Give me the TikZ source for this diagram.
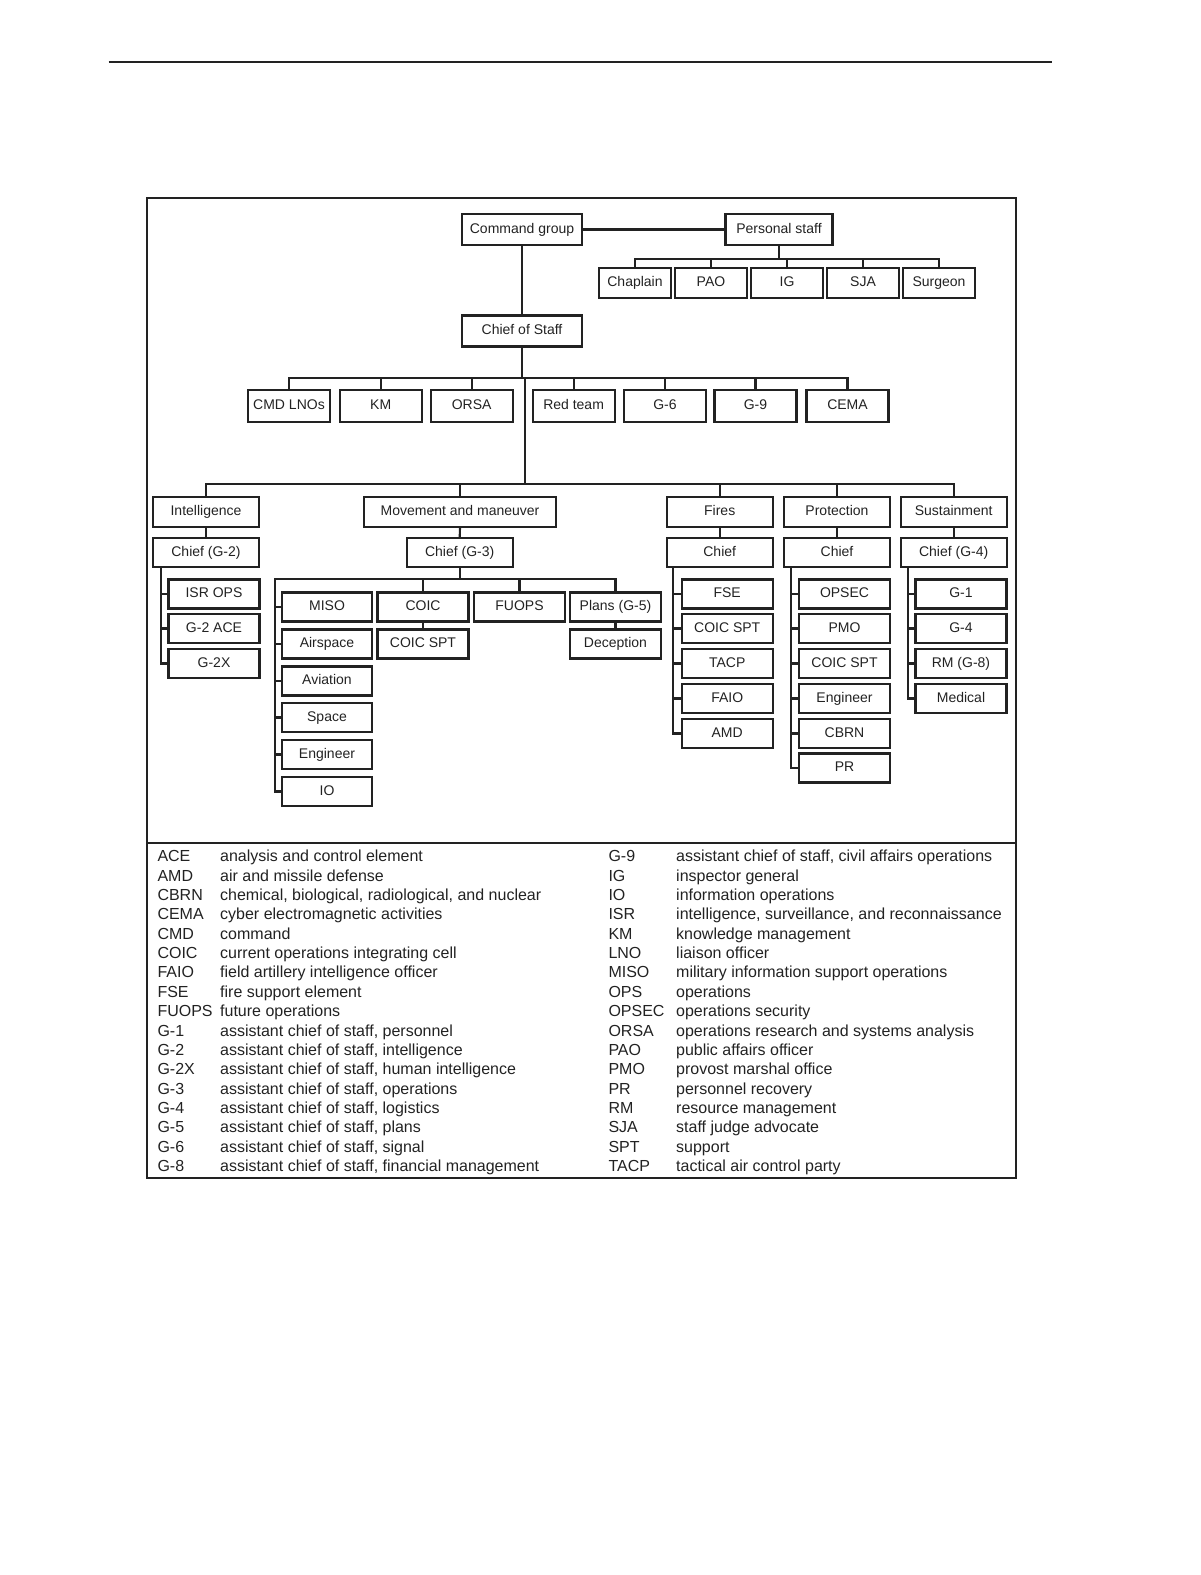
\documentclass[tikz,border=0pt]{standalone}
\usepackage{fontspec}
\setmainfont{Liberation Sans}
\definecolor{ink}{HTML}{222222}
\newcommand{\boxfont}{\fontsize{14}{16}\selectfont}
\newcommand{\legfont}{\fontsize{16}{19}\selectfont}
\tikzset{
  orgbox/.style={draw=ink, line width=2.1pt, rectangle, inner sep=0pt,
    minimum height=29pt, font=\boxfont, text=ink, text height=10pt, text depth=3pt},
  wide/.style={orgbox, minimum width=106pt},
  kid/.style={orgbox, minimum width=91pt},
  link/.style={draw=ink, line width=2.1pt},
  legab/.style={anchor=base west, inner sep=0pt, font=\legfont, text=ink},
}
\begin{document}
\begin{tikzpicture}[x=1pt,y=-1pt]
\useasboundingbox (0,0) rectangle (1200,1575);
% top rule and frame
\draw[ink, line width=2.2pt] (108.5,62.3) -- (1052.4,62.3);
\draw[ink, line width=2.2pt] (147,198) rectangle (1015.6,1177.7);
\draw[ink, line width=2.2pt] (147,842.6) -- (1015.6,842.6);

% top level
\node[orgbox, minimum width=120pt, minimum height=31pt] (cmd) at (522,229.5) {Command group};
\node[orgbox, minimum width=107pt, minimum height=31pt] (pers) at (779,229.5) {Personal staff};
\node[orgbox, minimum width=120pt, minimum height=31pt] (cos) at (522,331) {Chief of Staff};
\draw[link] (cmd.east) -- (pers.west);
\draw[link] (cmd.south) -- (cos.north);

% personal staff
\foreach \n/\t/\x in {chap/Chaplain/635, pao/PAO/711, ig/IG/787, sja/SJA/863, surg/Surgeon/939}
  \node[orgbox, minimum width=72pt, minimum height=30pt] (\n) at (\x,283) {\t};
\coordinate (pbus) at (779,259);
\draw[link] (pers.south) -- (pbus);
\draw[link] (chap.north) -- (chap.north |- pbus) -- (surg.north |- pbus) -- (surg.north);
\foreach \n in {pao,ig,sja} \draw[link] (\n.north) -- (\n.north |- pbus);

% chief of staff row
\foreach \n/\t/\x in {lno/CMD LNOs/289, km/KM/380.7, orsa/ORSA/471.6, red/Red team/573.6, gsix/G-6/665, gnine/G-9/755.5, cema/CEMA/847.5}
  \node[orgbox, minimum width=82pt, minimum height=32pt] (\n) at (\x,406) {\t};
\coordinate (cbus) at (522,378);
\draw[link] (cos.south) -- (cbus);
\draw[link] (lno.north) -- (lno.north |- cbus) -- (cema.north |- cbus) -- (cema.north);
\foreach \n in {km,orsa,red,gsix,gnine} \draw[link] (\n.north) -- (\n.north |- cbus);

% main bus
\coordinate (mtop) at (524.6,378);
\coordinate (mbus) at (524.6,484.3);
\draw[link] (mtop) -- (mbus);

\node[wide, minimum height=30pt] (intel) at (206,512) {Intelligence};
\node[orgbox, minimum width=192pt, minimum height=30pt] (mm) at (460,512) {Movement and maneuver};
\node[wide, minimum height=30pt] (fires) at (719.7,512) {Fires};
\node[wide, minimum height=30pt] (prot) at (837,512) {Protection};
\node[wide, minimum height=30pt] (sust) at (953.7,512) {Sustainment};
\draw[link] (intel.north) -- (intel.north |- mbus) -- (sust.north |- mbus) -- (sust.north);
\foreach \n in {mm,fires,prot} \draw[link] (\n.north) -- (\n.north |- mbus);

\node[wide] (cintel) at (206,552.5) {Chief (G-2)};
\node[wide] (cmm) at (459.7,552.5) {Chief (G-3)};
\node[wide] (cfires) at (719.7,552.5) {Chief};
\node[wide] (cprot) at (837,552.5) {Chief};
\node[wide] (csust) at (953.7,552.5) {Chief (G-4)};
\draw[link] (intel.south) -- (cintel.north);
\draw[link] (mm.south) -- (cmm.north);
\draw[link] (fires.south) -- (cfires.north);
\draw[link] (prot.south) -- (cprot.north);
\draw[link] (sust.south) -- (csust.north);

% intelligence children
\node[kid] (isr) at (214,594) {ISR OPS};
\node[kid] (gace) at (214,628.5) {G-2 ACE};
\node[kid] (gtwox) at (214,663.5) {G-2X};
\coordinate (iv) at (160.7,567);
\draw[link] (iv) |- (gtwox.west);
\foreach \n in {isr,gace} \draw[link] (iv |- \n.west) -- (\n.west);

% fires children
\foreach \n/\t/\y in {fse/FSE/594, fcoic/COIC SPT/628.5, tacp/TACP/663.5, faio/FAIO/698.5, amd/AMD/733.5}
  \node[kid] (\n) at (727.2,\y) {\t};
\coordinate (fv) at (673.3,567);
\draw[link] (fv) |- (amd.west);
\foreach \n in {fse,fcoic,tacp,faio} \draw[link] (fv |- \n.west) -- (\n.west);

% protection children
\foreach \n/\t/\y in {opsec/OPSEC/594, pmo/PMO/628.5, pcoic/COIC SPT/663.5, peng/Engineer/698.5, cbrn/CBRN/733.5, pr/PR/768}
  \node[kid] (\n) at (844.5,\y) {\t};
\coordinate (pv) at (791,567);
\draw[link] (pv) |- (pr.west);
\foreach \n in {opsec,pmo,pcoic,peng,cbrn} \draw[link] (pv |- \n.west) -- (\n.west);

% sustainment children
\foreach \n/\t/\y in {gone/G-1/594, gfour/G-4/628.5, rm/RM (G-8)/663.5, med/Medical/698.5}
  \node[kid] (\n) at (961,\y) {\t};
\coordinate (sv) at (907.7,567);
\draw[link] (sv) |- (med.west);
\foreach \n in {gone,gfour,rm} \draw[link] (sv |- \n.west) -- (\n.west);

% movement and maneuver children
\foreach \n/\t/\y in {miso/MISO/607, air/Airspace/644, avi/Aviation/681, space/Space/717.5, meng/Engineer/754.5, io/IO/791.5}
  \node[orgbox, minimum width=90pt] (\n) at (327,\y) {\t};
\node[orgbox, minimum width=91pt] (coic) at (423,607) {COIC};
\node[orgbox, minimum width=91pt] (coicspt) at (423,644) {COIC SPT};
\node[orgbox, minimum width=91pt] (fuops) at (519.5,607) {FUOPS};
\node[orgbox, minimum width=91pt] (plans) at (615.5,607) {Plans (G-5)};
\node[orgbox, minimum width=91pt] (decep) at (615.5,644) {Deception};
\coordinate (gbus) at (459.7,579.3);
\coordinate (gleft) at (275.3,579.3);
\draw[link] (cmm.south) -- (gbus);
\draw[link] (io.west) -| (gleft) -- (plans.north |- gbus) -- (plans.north);
\foreach \n in {coic,fuops} \draw[link] (\n.north) -- (\n.north |- gbus);
\foreach \n in {miso,air,avi,space,meng} \draw[link] (gleft |- \n.west) -- (\n.west);
\draw[link] (coic.south) -- (coicspt.north);
\draw[link] (plans.south) -- (decep.north);

% legend
\foreach \ab/\df [count=\i] in {ACE/analysis and control element, AMD/air and missile defense,
  CBRN/{chemical, biological, radiological, and nuclear}, CEMA/cyber electromagnetic activities,
  CMD/command, COIC/current operations integrating cell, FAIO/field artillery intelligence officer,
  FSE/fire support element, FUOPS/future operations, G-1/{assistant chief of staff, personnel},
  G-2/{assistant chief of staff, intelligence}, G-2X/{assistant chief of staff, human intelligence},
  G-3/{assistant chief of staff, operations}, G-4/{assistant chief of staff, logistics},
  G-5/{assistant chief of staff, plans}, G-6/{assistant chief of staff, signal},
  G-8/{assistant chief of staff, financial management}} {
  \node[legab] (la\i) at (157.3,{861.7+(\i-1)*19.37}) {\ab};
  \node[legab] (ld\i) at (220,{861.7+(\i-1)*19.37}) {\df};
}
\foreach \ab/\df [count=\i] in {G-9/{assistant chief of staff, civil affairs operations}, IG/inspector general,
  IO/information operations, ISR/{intelligence, surveillance, and reconnaissance}, KM/knowledge management,
  LNO/liaison officer, MISO/military information support operations, OPS/operations,
  OPSEC/operations security, ORSA/operations research and systems analysis, PAO/public affairs officer,
  PMO/provost marshal office, PR/personnel recovery, RM/resource management, SJA/staff judge advocate,
  SPT/support, TACP/tactical air control party} {
  \node[legab] (ra\i) at (608.3,{861.7+(\i-1)*19.37}) {\ab};
  \node[legab] (rd\i) at (676,{861.7+(\i-1)*19.37}) {\df};
}
\end{tikzpicture}
\end{document}
